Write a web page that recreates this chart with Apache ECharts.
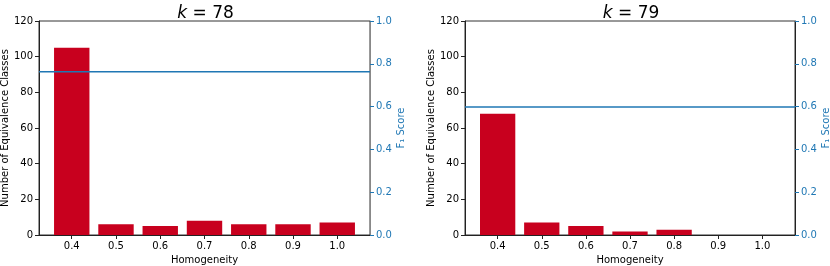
<!DOCTYPE html>
<html>
<head>
<meta charset="utf-8">
<script src="https://cdn.jsdelivr.net/npm/echarts@6/dist/echarts.min.js"></script>
<style>html,body{margin:0;padding:0;background:#fff}#c{width:830px;height:266px}</style>
</head>
<body>
<div id="c"></div>
<script>
// ---- data ----
var homogeneity = [0.4, 0.5, 0.6, 0.7, 0.8, 0.9, 1.0];
var countsK78 = [105, 6, 5, 8, 6, 6, 7];
var countsK79 = [68, 7, 5, 2, 3, 0, 0];
var f1K78 = 0.763;
var f1K79 = 0.598;
var titles = ['78', '79'];
var leftTicks = [0, 20, 40, 60, 80, 100, 120];
var rightTicks = [0.0, 0.2, 0.4, 0.6, 0.8, 1.0];

// ---- layout ----
var X_MIN = 0.326, X_MAX = 1.074, BAR_W = 0.08;
var grids = [
  {left: 39, top: 21, width: 331, height: 214, rightSpine: '#888'},
  {left: 465, top: 21, width: 330, height: 214, rightSpine: '#222'}
];
var FONT = 'DejaVu Sans';
var BLUE = '#1f77b4';
var RED = '#c8001e';
var counts = [countsK78, countsK79];
var f1 = [f1K78, f1K79];

var chart = echarts.init(document.getElementById('c'), null, {renderer: 'canvas'});
var option = {
  animation: false,
  textStyle: {fontFamily: FONT},
  title: [], grid: [], xAxis: [], yAxis: [], series: []
};
grids.forEach(function (g, i) {
  option.title.push({
    text: '{i|k}{n| = ' + titles[i] + '}',
    left: g.left + g.width / 2 - 4, top: 0, textAlign: 'center',
    textStyle: {fontFamily: FONT, fontSize: 17, fontWeight: 'normal', color: '#000',
      rich: {i: {fontStyle: 'italic', fontFamily: FONT, fontSize: 17, color: '#000'},
             n: {fontFamily: FONT, fontSize: 17, color: '#000'}}}
  });
  option.grid.push({left: g.left, top: g.top, width: g.width, height: g.height,
    containLabel: false, outerBoundsMode: 'none',
    show: true, borderColor: '#333', borderWidth: 1, backgroundColor: 'transparent'});
  option.xAxis.push({
    type: 'value', gridIndex: i, min: X_MIN, max: X_MAX,
    name: 'Homogeneity', nameLocation: 'middle', nameGap: 20,
    nameTextStyle: {fontFamily: FONT, fontSize: 10, color: '#000'},
    axisLine: {show: true, lineStyle: {color: '#222', width: 1}},
    axisTick: {show: true, length: 4, customValues: homogeneity, lineStyle: {color: '#222'}},
    axisLabel: {customValues: homogeneity, margin: 6, fontSize: 10, color: '#000', fontFamily: FONT,
      formatter: function (v) { return v.toFixed(1); }},
    splitLine: {show: false}
  });
  option.yAxis.push({
    type: 'value', gridIndex: i, min: 0, max: 120, interval: 20, position: 'left',
    name: 'Number of Equivalence Classes', nameLocation: 'middle', nameGap: 26, nameRotate: 90,
    nameTextStyle: {fontFamily: FONT, fontSize: 10, color: '#000'},
    axisLine: {show: true, lineStyle: {color: '#222', width: 1}},
    axisTick: {show: true, length: 4, lineStyle: {color: '#222'}},
    axisLabel: {margin: 6, fontSize: 10, color: '#000', fontFamily: FONT},
    splitLine: {show: false}
  });
  option.yAxis.push({
    type: 'value', gridIndex: i, min: 0, max: 1, interval: 0.2, position: 'right',
    name: 'F\u2081 Score', nameLocation: 'middle', nameGap: 26, nameRotate: 90,
    nameTextStyle: {fontFamily: FONT, fontSize: 10, color: BLUE},
    axisLine: {show: true, lineStyle: {color: g.rightSpine, width: 1}},
    axisTick: {show: true, length: 4, lineStyle: {color: BLUE}},
    axisLabel: {margin: 6, fontSize: 10, color: BLUE, fontFamily: FONT,
      formatter: function (v) { return v.toFixed(1); }},
    splitLine: {show: false}
  });
  option.series.push({
    type: 'bar', xAxisIndex: i, yAxisIndex: i * 2,
    barWidth: BAR_W / (X_MAX - X_MIN) * g.width,
    itemStyle: {color: RED},
    data: homogeneity.map(function (h, j) { return [h, counts[i][j]]; })
  });
  option.series.push({
    type: 'line', xAxisIndex: i, yAxisIndex: i * 2 + 1, symbol: 'none',
    lineStyle: {color: BLUE, width: 1.5},
    data: [[X_MIN, f1[i]], [X_MAX, f1[i]]]
  });
});
chart.setOption(option);
</script>
</body>
</html>
